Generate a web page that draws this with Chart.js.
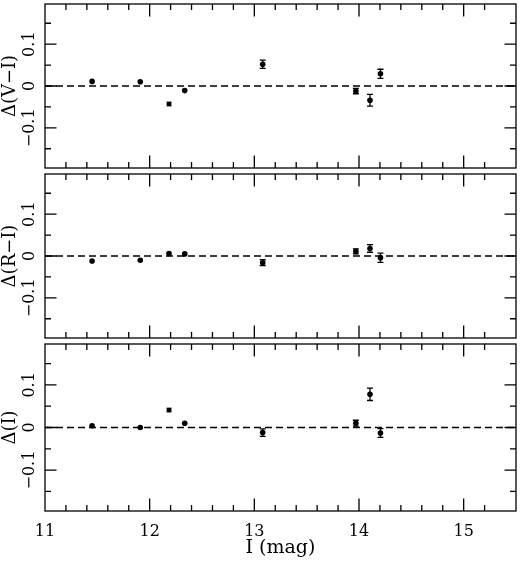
<!DOCTYPE html>
<html>
<head>
<meta charset="utf-8">
<script src="https://cdn.jsdelivr.net/npm/chart.js@4.4.0/dist/chart.umd.min.js"></script>
<style>
  html, body { margin: 0; padding: 0; background: #fff; overflow: hidden; }
  #wrap { position: relative; width: 520px; height: 563px; overflow: hidden; }
  #wrap > div { position: absolute; left: 0; width: 520px; }
</style>
</head>
<body>
<div id="wrap">
  <div style="top:0;height:172px"><canvas id="cVI"></canvas></div>
  <div style="top:170px;height:172px"><canvas id="cRI"></canvas></div>
  <div style="top:340px;height:223px"><canvas id="cI"></canvas></div>
</div>
<script>
// I magnitude of each comparison star
const magI = [11.45, 11.91, 12.185, 12.335, 13.08, 13.97, 14.105, 14.205];

// differences and their errors, one pair of arrays per panel
const dVI   = [0.011, 0.010, -0.043, -0.011, 0.052, -0.012, -0.034, 0.029];
const errVI = [0, 0, 0, 0, 0.010, 0.0065, 0.014, 0.011];
const dRI   = [-0.012, -0.010, 0.006, 0.005, -0.016, 0.011, 0.018, -0.004];
const errRI = [0, 0, 0, 0, 0.007, 0.006, 0.009, 0.011];
const dI    = [0.004, 0.000, 0.041, 0.010, -0.012, 0.010, 0.078, -0.013];
const errI  = [0, 0, 0, 0, 0.009, 0.007, 0.0146, 0.0104];

// dashed reference line
const refX = [11, 15.5];
const refY = [0, 0];

const xMin = 11, xMax = 15.5;
const yMin = -0.196, yMax = 0.196;

const serif = '"DejaVu Serif", serif';

// frame, inward ticks on all four sides, rotated y labels, error bars
const framePlugin = {
  id: 'frameTicks',
  afterDatasetsDraw(chart) {
    const { ctx, scales: { x, y } } = chart;
    const errs = chart.options.plugins.frameTicks.errs;
    const vals = chart.options.plugins.frameTicks.vals;
    ctx.save();
    ctx.strokeStyle = '#000';
    ctx.lineWidth = 1.3;
    ctx.beginPath();
    magI.forEach((m, i) => {
      if (!errs[i]) return;
      const px = x.getPixelForValue(m);
      const y1 = y.getPixelForValue(vals[i] - errs[i]);
      const y2 = y.getPixelForValue(vals[i] + errs[i]);
      ctx.moveTo(px, y1); ctx.lineTo(px, y2);
      ctx.moveTo(px - 3, y1); ctx.lineTo(px + 3, y1);
      ctx.moveTo(px - 3, y2); ctx.lineTo(px + 3, y2);
    });
    ctx.stroke();
    ctx.restore();
  },
  afterDraw(chart) {
    const { ctx, chartArea: a, scales: { x, y } } = chart;
    ctx.save();
    ctx.strokeStyle = '#000';
    ctx.lineWidth = 1.3;
    ctx.strokeRect(a.left, a.top, a.right - a.left, a.bottom - a.top);
    ctx.beginPath();
    x.ticks.forEach(t => {
      const v = t.value;
      if (v <= xMin + 1e-6 || v >= xMax - 1e-6) return;
      const px = x.getPixelForValue(v);
      const len = Math.abs(v - Math.round(v)) < 1e-6 ? 12.5 : 6;
      ctx.moveTo(px, a.bottom); ctx.lineTo(px, a.bottom - len);
      ctx.moveTo(px, a.top); ctx.lineTo(px, a.top + len);
    });
    const labels = [];
    y.ticks.forEach(t => {
      const v = t.value;
      if (Math.abs(v) > 0.19) return;
      const py = y.getPixelForValue(v);
      const major = Math.abs(v * 10 - Math.round(v * 10)) < 1e-6;
      const len = major ? 11.5 : 6;
      ctx.moveTo(a.left, py); ctx.lineTo(a.left + len, py);
      ctx.moveTo(a.right, py); ctx.lineTo(a.right - len, py);
      if (major) {
        const r = Math.round(v * 10) / 10;
        labels.push([py, r === 0 ? '0' : (r < 0 ? '\u2212' + (-r).toFixed(1) : r.toFixed(1))]);
      }
    });
    ctx.stroke();
    ctx.fillStyle = '#000';
    ctx.font = '16px ' + serif;
    ctx.textAlign = 'center';
    ctx.textBaseline = 'middle';
    labels.forEach(([py, txt]) => {
      ctx.save();
      ctx.translate(a.left - 15, py);
      ctx.rotate(-Math.PI / 2);
      ctx.fillText(txt, 0, 0);
      ctx.restore();
    });
    ctx.restore();
  }
};

function makePanel(id, vals, errs, title, squares, bottom) {
  const points = magI.map((m, i) => ({ x: m, y: vals[i] }));
  const ref = refX.map((v, i) => ({ x: v, y: refY[i] }));
  new Chart(document.getElementById(id), {
    type: 'scatter',
    data: {
      datasets: [
        {
          data: points,
          backgroundColor: '#000',
          borderColor: '#000',
          borderWidth: 0,
          pointRadius: ctx => squares && ctx.dataIndex === 2 ? 3.4 : 2.8,
          pointStyle: ctx => squares && ctx.dataIndex === 2 ? 'rect' : 'circle'
        },
        {
          type: 'line',
          data: ref,
          borderColor: '#000',
          borderWidth: 1.3,
          borderDash: [7, 4],
          pointRadius: 0,
          fill: false
        }
      ]
    },
    options: {
      responsive: true,
      maintainAspectRatio: false,
      animation: false,
      layout: { padding: { top: 1, right: 1, bottom: bottom ? 0 : 1, left: 0 } },
      plugins: {
        legend: { display: false },
        tooltip: { enabled: false },
        frameTicks: { vals: vals, errs: errs }
      },
      scales: {
        x: {
          type: 'linear',
          min: xMin,
          max: xMax,
          display: bottom,
          grid: { display: false },
          border: { display: false },
          ticks: {
            stepSize: 0.2,
            autoSkip: false,
            maxRotation: 0,
            padding: 3,
            color: '#000',
            font: { family: serif, size: 16 },
            callback: v => Math.abs(v - Math.round(v)) < 1e-6 ? String(Math.round(v)) : ''
          },
          title: {
            display: bottom,
            text: 'I (mag)',
            color: '#000',
            font: { family: serif, size: 19 },
            padding: { top: 0, bottom: 4 }
          },
          afterFit: s => {
            if (bottom) s.height = 52;
            s.paddingLeft = 0;
            s.paddingRight = 0;
          }
        },
        y: {
          type: 'linear',
          min: yMin,
          max: yMax,
          grid: { display: false },
          border: { display: false },
          ticks: { display: false, stepSize: 0.05 },
          title: {
            display: true,
            text: title,
            color: '#000',
            font: { family: serif, size: 18 },
            padding: { top: 0, bottom: 0 }
          },
          afterFit: s => {
            s.width = 45;
            s.paddingTop = 0;
            s.paddingBottom = 0;
          }
        }
      }
    },
    plugins: [framePlugin]
  });
}

makePanel('cVI', dVI, errVI, '\u0394(V\u2212I)', true, false);
makePanel('cRI', dRI, errRI, '\u0394(R\u2212I)', false, false);
makePanel('cI', dI, errI, '\u0394(I)', true, true);
</script>
</body>
</html>
